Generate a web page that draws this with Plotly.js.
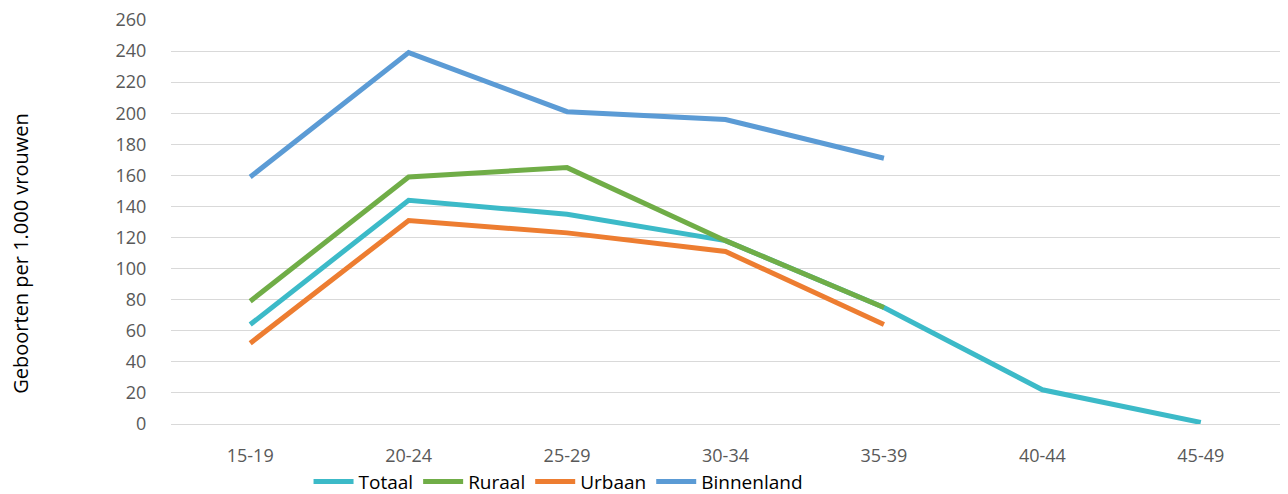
<!DOCTYPE html>
<html>
<head>
<meta charset="utf-8">
<script src="https://cdn.plot.ly/plotly-3.0.1.min.js"></script>
<style>
  html, body { margin: 0; padding: 0; background: #fff; }
  #grafiek { width: 1288px; height: 494px; }
</style>
</head>
<body>
<div id="grafiek"></div>
<script>
// leeftijdsgroepen
var groepen = ['15-19', '20-24', '25-29', '30-34', '35-39', '40-44', '45-49'];

// geboorten per 1.000 vrouwen
var totaal = [64, 144, 135, 118, 75, 22, 1];
var ruraal = [79, 159, 165, 118, 75];
var urbaan = [52, 131, 123, 111, 64];
var binnenland = [159, 239, 201, 196, 171];

function lijn(naam, waarden, kleur) {
    return {
        x: groepen.slice(0, waarden.length),
        y: waarden,
        type: 'scatter',
        mode: 'lines',
        name: naam,
        line: {color: kleur, width: 5},
        hoverinfo: 'x+y+name'
    };
}

var data = [
    lijn('Totaal', totaal, '#3cbac8'),
    lijn('Ruraal', ruraal, '#70ad47'),
    lijn('Urbaan', urbaan, '#ed7d31'),
    lijn('Binnenland', binnenland, '#5b9bd5')
];

var layout = {
    width: 1288,
    height: 494,
    margin: {l: 171, r: 8, t: 20, b: 70},
    paper_bgcolor: '#fff',
    plot_bgcolor: '#fff',
    font: {family: 'Open Sans, sans-serif', size: 18, color: '#595959'},
    showlegend: true,
    legend: {
        orientation: 'h',
        x: 0.349, xanchor: 'center',
        yref: 'container',
        y: 0.025, yanchor: 'middle',
        font: {size: 19, color: '#000'},
        itemwidth: 40,
        tracegroupgap: 0
    },
    xaxis: {
        type: 'category',
        range: [-0.5, 6.5],
        showgrid: false,
        zeroline: false,
        showline: false,
        ticks: 'outside',
        ticklen: 15,
        tickcolor: 'rgba(0,0,0,0)',
        tickfont: {size: 18, color: '#595959'}
    },
    yaxis: {
        range: [0, 260],
        dtick: 20,
        tick0: 0,
        showgrid: true,
        gridcolor: '#d9d9d9',
        gridwidth: 1,
        zeroline: true,
        zerolinecolor: '#d9d9d9',
        zerolinewidth: 1,
        showline: false,
        ticks: 'outside',
        ticklen: 20,
        tickcolor: 'rgba(0,0,0,0)',
        tickfont: {size: 18, color: '#595959'}
    },
    annotations: [{
        text: 'Geboorten per 1.000 vrouwen',
        textangle: -90,
        xref: 'paper', yref: 'paper',
        x: -0.1365, y: 0.423,
        xanchor: 'center', yanchor: 'middle',
        showarrow: false,
        font: {size: 20, color: '#000'}
    }]
};

Plotly.newPlot('grafiek', data, layout, {displayModeBar: false, staticPlot: true});
</script>
</body>
</html>
